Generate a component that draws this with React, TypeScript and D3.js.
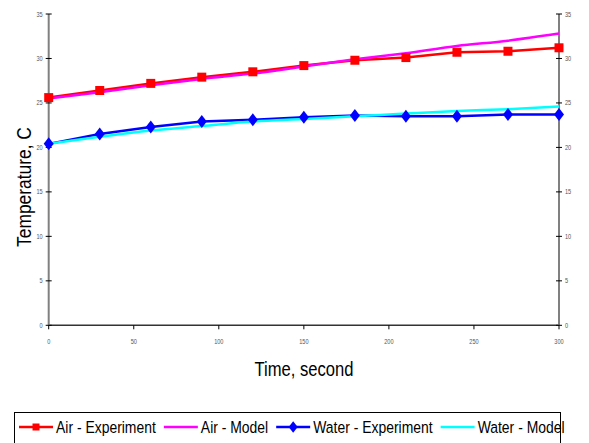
import React, { useEffect, useRef } from "react";
import * as d3 from "d3";

// time in seconds
const times = [0, 30, 60, 90, 120, 150, 180, 210, 240, 270, 300];
const airExperiment = [25.6, 26.4, 27.2, 27.9, 28.5, 29.2, 29.8, 30.1, 30.7, 30.8, 31.2];
const airModel = [25.5, 26.2, 27.0, 27.7, 28.3, 29.1, 29.9, 30.6, 31.4, 32.0, 32.8];
const waterExperiment = [20.4, 21.5, 22.3, 22.9, 23.1, 23.4, 23.6, 23.5, 23.5, 23.7, 23.7];
const waterModel = [20.4, 21.2, 21.9, 22.4, 22.9, 23.2, 23.5, 23.8, 24.1, 24.3, 24.6];

const yTicks = [0, 5, 10, 15, 20, 25, 30, 35];
const xTicks = [0, 50, 100, 150, 200, 250, 300];

const seriesNames = ["Air - Experiment", "Air - Model", "Water - Experiment", "Water - Model"];
const seriesColors = ["#ff0000", "#ff00ff", "#0000ff", "#00ffff"];
const seriesMarkers = ["square", "none", "diamond", "none"];
const seriesValues = [airExperiment, airModel, waterExperiment, waterModel];

const W = 589;
const H = 443;
const FONT = "'Liberation Sans', Arial, sans-serif";

export default function App() {
  const ref = useRef<SVGSVGElement>(null);

  useEffect(() => {
    const svg = d3.select(ref.current);
    svg.selectAll("*").remove();

    const x = d3.scaleLinear().domain([0, 300]).range([48.7, 559]);
    const y = d3.scaleLinear().domain([0, 35]).range([325.3, 14]);

    svg.append("rect").attr("width", W).attr("height", H).attr("fill", "#fff");

    // condensed text, the original uses a narrow face
    const label = (parent: any, tx: number, ty: number, size: number, sx: number, anchor: string, s: string, rot = 0) =>
      parent.append("text")
        .attr("transform", `translate(${tx},${ty}) rotate(${rot}) scale(${sx},1)`)
        .attr("text-anchor", anchor)
        .attr("font-size", size)
        .attr("font-family", FONT)
        .text(s);

    // axes
    svg.append("line")
      .attr("x1", x(0)).attr("x2", x(300)).attr("y1", y(0)).attr("y2", y(0))
      .attr("stroke", "#333").attr("stroke-width", 1.5);
    [0, 300].forEach((v) => {
      svg.append("line")
        .attr("x1", x(v)).attr("x2", x(v)).attr("y1", y(0)).attr("y2", y(35))
        .attr("stroke", "#808080").attr("stroke-width", 2);
    });

    const g = svg.append("g").attr("fill", "#555");
    yTicks.forEach((t) => {
      [0, 300].forEach((v) => {
        g.append("line")
          .attr("x1", x(v) - 3).attr("x2", x(v) + 3).attr("y1", y(t)).attr("y2", y(t))
          .attr("stroke", "#000").attr("stroke-width", 1);
      });
      label(g, x(0) - 6, y(t) + 2.5, 7, 0.8, "end", String(t));
      label(g, x(300) + 6, y(t) + 2.5, 7, 0.8, "start", String(t));
    });
    xTicks.forEach((t) => {
      g.append("line")
        .attr("x1", x(t)).attr("x2", x(t)).attr("y1", y(0)).attr("y2", y(0) + 4)
        .attr("stroke", "#000").attr("stroke-width", 1);
      label(g, x(t), 344, 7, 0.8, "middle", String(t));
    });

    // titles
    label(svg, 304, 376, 20, 0.83, "middle", "Time, second");
    label(svg, 31, 187, 20, 0.87, "middle", "Temperature, C", -90);

    // series
    const markerPath = (kind: string, cx: number, cy: number, s: number) => {
      if (kind === "square") return `M${cx - s},${cy - s}h${2 * s}v${2 * s}h${-2 * s}Z`;
      return `M${cx},${cy - s * 1.3}L${cx + s},${cy}L${cx},${cy + s * 1.3}L${cx - s},${cy}Z`;
    };

    seriesValues.forEach((vals, i) => {
      const line = d3.line<number>()
        .x((_, j) => x(times[j]))
        .y((d) => y(d))
        .curve(seriesMarkers[i] === "none" ? d3.curveMonotoneX : d3.curveLinear);
      svg.append("path")
        .datum(vals)
        .attr("d", line)
        .attr("fill", "none")
        .attr("stroke", seriesColors[i])
        .attr("stroke-width", 2.5);
    });
    seriesValues.forEach((vals, i) => {
      if (seriesMarkers[i] === "none") return;
      svg.append("g").selectAll("path")
        .data(vals)
        .join("path")
        .attr("d", (d, j) => markerPath(seriesMarkers[i], x(times[j]), y(d), seriesMarkers[i] === "square" ? 4.5 : 5))
        .attr("fill", seriesColors[i]);
    });

    // legend
    const legend = svg.append("g");
    legend.append("rect")
      .attr("x", 14.5).attr("y", 412.5).attr("width", 546).attr("height", 40)
      .attr("fill", "#fff").attr("stroke", "#000").attr("stroke-width", 1);
    const sx = 0.82;
    let lx = 19;
    const ly = 427;
    seriesNames.forEach((name, i) => {
      legend.append("line")
        .attr("x1", lx).attr("x2", lx + 34).attr("y1", ly).attr("y2", ly)
        .attr("stroke", seriesColors[i]).attr("stroke-width", 2.5);
      if (seriesMarkers[i] !== "none") {
        legend.append("path")
          .attr("d", markerPath(seriesMarkers[i], lx + 17, ly, seriesMarkers[i] === "square" ? 3.5 : 4.5))
          .attr("fill", seriesColors[i]);
      }
      const txt = label(legend, lx + 37, 433, 17, sx, "start", name);
      const w = (txt.node() as SVGTextElement).getComputedTextLength() * sx;
      lx += 37 + w + 8;
    });
  }, []);

  return (
    <svg
      ref={ref}
      width={W}
      height={H}
      style={{ position: "fixed", left: 0, top: 0, display: "block" }}
    />
  );
}
